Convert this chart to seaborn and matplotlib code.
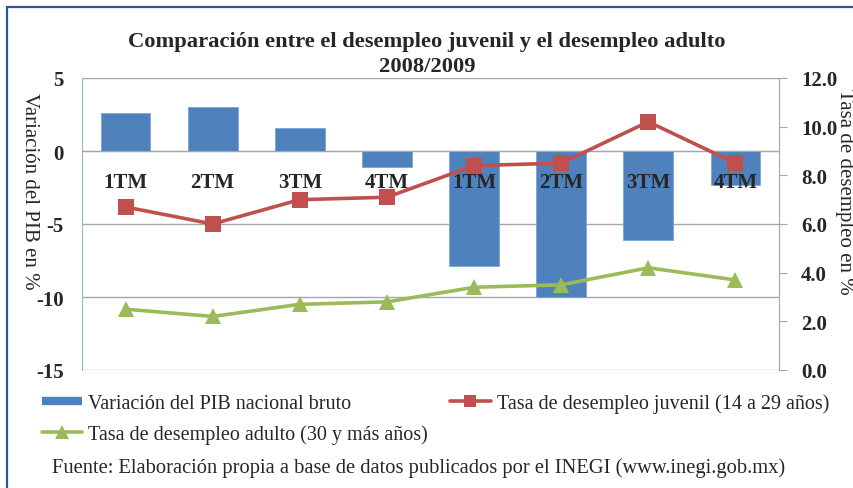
import numpy as np
import pandas as pd
import matplotlib
matplotlib.use("Agg")
import matplotlib.pyplot as plt
import seaborn as sns
from matplotlib.lines import Line2D
from matplotlib.patches import Rectangle
from matplotlib.ticker import FormatStrFormatter

# Data (2008 Q1..Q4, 2009 Q1..Q4)
quarter_keys = ["2008-1", "2008-2", "2008-3", "2008-4",
                "2009-1", "2009-2", "2009-3", "2009-4"]
quarter_labels = ["1TM", "2TM", "3TM", "4TM", "1TM", "2TM", "3TM", "4TM"]
pib_var = [2.6, 3.0, 1.6, -1.1, -7.9, -10.0, -6.1, -2.3]
desempleo_juvenil = [6.7, 6.0, 7.0, 7.1, 8.4, 8.5, 10.2, 8.5]
desempleo_adulto = [2.5, 2.2, 2.7, 2.8, 3.4, 3.5, 4.2, 3.7]

BLUE = "#4F81BD"
RED = "#C0504D"
GREEN = "#9BBB59"
GRID = "#A6A6A6"
FONT = "Liberation Serif"

sns.set_style("white")
plt.rcParams["font.family"] = [FONT, "DejaVu Serif"]
plt.rcParams["axes.unicode_minus"] = False

df = pd.DataFrame({
    "trimestre": quarter_keys,
    "pos": np.arange(len(quarter_keys)),
    "pib": pib_var,
    "juvenil": desempleo_juvenil,
    "adulto": desempleo_adulto,
})

W, H = 854, 489
fig = plt.figure(figsize=(W / 100, H / 100), dpi=100)
ax = fig.add_axes([82 / W, 1 - 371 / H, 697 / W, 292 / H])
ax2 = ax.twinx()

# Bars on the left axis
sns.barplot(data=df, x="trimestre", y="pib", color=BLUE, saturation=1,
            width=0.57, ax=ax, edgecolor="#7FA5D6", linewidth=0.6)

# Lines on the right axis
sns.lineplot(data=df, x="pos", y="juvenil", ax=ax2, color=RED, lw=2.6,
             marker="s", markersize=11, markeredgewidth=0)
sns.lineplot(data=df, x="pos", y="adulto", ax=ax2, color=GREEN, lw=2.6,
             marker="^", markersize=12, markeredgewidth=0)

# Left axis styling
ax.set_ylim(-15, 5)
ax.set_xlim(-0.5, 7.5)
ax.set_yticks(range(-15, 6, 5))
ax.yaxis.grid(True, color=GRID, lw=1)
ax.set_axisbelow(True)
ax.tick_params(axis="y", length=0, pad=13, labelsize=15)
for t in ax.get_yticklabels():
    t.set_fontweight("bold")
ax.spines["bottom"].set_position(("data", 0))
ax.spines["bottom"].set_color(GRID)
ax.spines["top"].set_visible(False)
ax.spines["right"].set_visible(False)
ax.spines["left"].set_color("#95B3D7")
ax.set_xlabel("")
ax.set_ylabel("Variación del PIB en %", fontsize=15, rotation=270,
              ha="center", va="center")
ax.yaxis.set_label_coords(-0.075, 0.616)

# Right axis styling
ax2.set_ylim(0, 12)
ax2.set_xlim(-0.5, 7.5)
ax2.set_yticks(np.arange(0, 12.1, 2))
ax2.yaxis.set_major_formatter(FormatStrFormatter("%.1f"))
ax2.tick_params(axis="y", direction="out", length=6, color=GRID, pad=10,
                labelsize=15)
for t in ax2.get_yticklabels():
    t.set_fontweight("bold")
for side in ["top", "left", "bottom"]:
    ax2.spines[side].set_visible(False)
ax2.spines["right"].set_color(GRID)
ax2.set_xlabel("")
ax2.set_ylabel("Tasa de desempleo en %", fontsize=15, rotation=270,
               ha="center", va="center")
ax2.yaxis.set_label_coords(1.094, 0.615)

# Category labels (set last so they are not reset); drawn above the bars
ax.tick_params(axis="x", length=0, pad=15, labelsize=15)
ax.set_xticks(range(len(quarter_labels)), quarter_labels,
              fontweight="bold", fontsize=15)
ax.xaxis.set_zorder(2.5)

# Title
fig.text(0.5, 1 - 42 / H,
         "Comparación entre el desempleo juvenil y el desempleo adulto",
         ha="center", va="center", fontsize=16.2, fontweight="bold")
fig.text(0.5, 1 - 67 / H, "2008/2009", ha="center", va="center",
         fontsize=16.2, fontweight="bold")

# Legend below the plot
handles = [
    Line2D([], [], color=BLUE, lw=6, solid_capstyle="butt"),
    Line2D([], [], color=GREEN, lw=2.6, marker="^", markersize=10,
           markeredgewidth=0),
    Line2D([], [], color=RED, lw=2.6, marker="s", markersize=9,
           markeredgewidth=0),
]
labels = ["Variación del PIB nacional bruto",
          "Tasa de desempleo adulto (30 y más años)",
          "Tasa de desempleo juvenil (14 a 29 años)"]
fig.legend(handles, labels, loc="upper left", ncol=2, frameon=False,
           bbox_to_anchor=(34 / W, 1 - 386 / H), fontsize=14.5,
           handlelength=2.0, handletextpad=0.3, columnspacing=1.1,
           labelspacing=0.55, borderaxespad=0)

# Source note
fig.text(52 / W, 1 - 468 / H,
         "Fuente: Elaboración propia a base de datos publicados por el INEGI (www.inegi.gob.mx)",
         ha="left", va="center", fontsize=14.8)

# Blue frame around the chart
fig.add_artist(Rectangle((7 / W, -0.1), 1.2, 1 - 8 / H + 0.1,
                         transform=fig.transFigure, fill=False,
                         ec="#2E5597", lw=1.6))

fig.savefig("out.png", dpi=100)
